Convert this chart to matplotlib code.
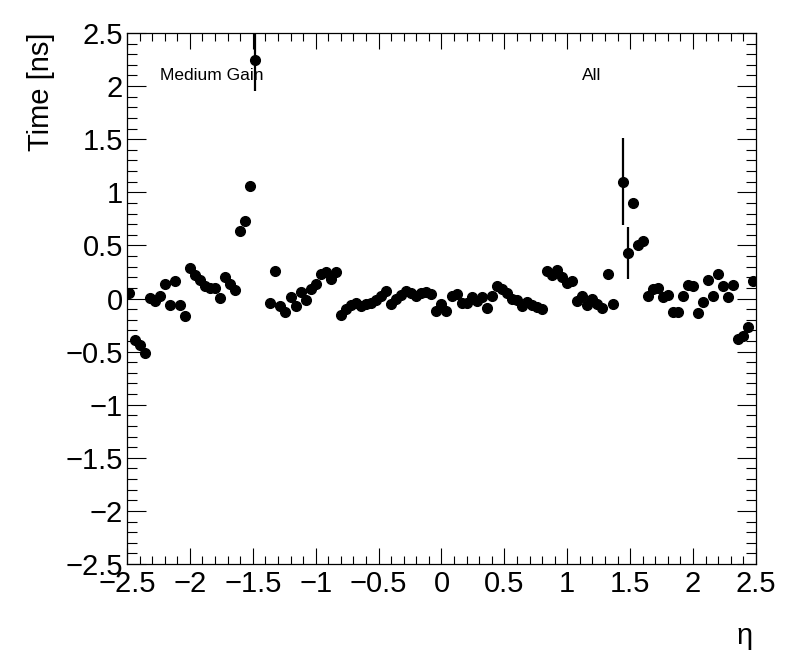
import matplotlib
matplotlib.use("Agg")
import matplotlib.pyplot as plt
from matplotlib.ticker import MultipleLocator, FuncFormatter
import numpy as np

plt.rcParams['font.family'] = ['Liberation Sans', 'DejaVu Sans']

# eta binning: 125 bins of 0.04 between -2.5 and 2.5
eta_edges = np.linspace(-2.5, 2.5, 126)
eta = 0.5 * (eta_edges[:-1] + eta_edges[1:])

nan = np.nan
# mean time per bin [ns] (nan = empty bin)
time_ns = [
    0.05, -0.39, -0.44, -0.515, 0.005, -0.02, 0.02, 0.135, -0.06, 0.165,
    -0.06, -0.165, 0.29, 0.225, 0.17, 0.12, 0.10, 0.10, 0.005, 0.20,
    0.14, 0.08, 0.64, 0.73, 1.06, 2.25, nan, nan, -0.045, 0.26,
    -0.075, -0.13, 0.01, -0.075, 0.06, -0.01, 0.09, 0.135, 0.23, 0.245,
    0.18, 0.245, -0.155, -0.10, -0.065, -0.04, -0.07, -0.055, -0.04, -0.01,
    0.025, 0.07, -0.05, -0.005, 0.035, 0.07, 0.05, 0.02, 0.05, 0.06,
    0.04, -0.12, -0.055, -0.12, 0.02, 0.04, -0.04, -0.045, 0.01, -0.02,
    0.01, -0.085, 0.02, 0.115, 0.09, 0.05, -0.005, -0.01, -0.07, -0.03,
    -0.06, -0.08, -0.10, 0.26, 0.225, 0.27, 0.20, 0.145, 0.165, -0.025,
    0.02, -0.06, -0.005, -0.055, -0.085, 0.23, -0.05, nan, 1.10, 0.43,
    0.90, 0.505, 0.545, 0.02, 0.09, 0.10, 0.01, 0.035, -0.125, -0.125,
    0.025, 0.13, 0.12, -0.14, -0.03, 0.175, 0.025, 0.23, 0.115, 0.01,
    0.13, -0.385, -0.355, -0.265, 0.165,
]
time_ns = np.array(time_ns)

# errors: only a few are larger than the marker
time_err = np.zeros(len(time_ns))
time_err[25] = 0.30
time_err[98] = 0.41
time_err[99] = 0.245

fig = plt.figure(figsize=(7.96, 6.72), dpi=100)
ax = fig.add_axes([0.1595, 0.1607, 0.7902, 0.7902])

ax.errorbar(eta, time_ns, yerr=time_err, fmt='o', color='black',
            markersize=7, elinewidth=1.6, capsize=0, clip_on=True)

ax.set_xlim(-2.5, 2.5)
ax.set_ylim(-2.5, 2.5)

fmt = FuncFormatter(lambda v, p: f"{v:g}".replace('-', '\u2212'))
ax.xaxis.set_major_locator(MultipleLocator(0.5))
ax.xaxis.set_minor_locator(MultipleLocator(0.1))
ax.yaxis.set_major_locator(MultipleLocator(0.5))
ax.yaxis.set_minor_locator(MultipleLocator(0.1))
ax.xaxis.set_major_formatter(fmt)
ax.yaxis.set_major_formatter(fmt)

ax.tick_params(which='both', direction='in', top=True, right=True, width=0.8)
ax.tick_params(axis='x', which='major', length=11.5, labelsize=21, pad=4)
ax.tick_params(axis='x', which='minor', length=5.8)
ax.tick_params(axis='y', which='major', length=13.7, labelsize=21, pad=3)
ax.tick_params(axis='y', which='minor', length=7)
for s in ax.spines.values():
    s.set_linewidth(0.9)

ax.text(-0.137, 1.0, 'Time [ns]', transform=ax.transAxes, rotation=90,
        ha='center', va='top', fontsize=21)
ax.text(0.994, -0.136, '\u03b7', transform=ax.transAxes,
        ha='right', va='center', fontsize=21)

ax.text(0.052, 0.9115, 'Medium Gain', transform=ax.transAxes,
        ha='left', va='baseline', fontsize=12.5)
ax.text(0.7234, 0.9115, 'All', transform=ax.transAxes,
        ha='left', va='baseline', fontsize=12.5)

fig.savefig('out.png', dpi=100)
